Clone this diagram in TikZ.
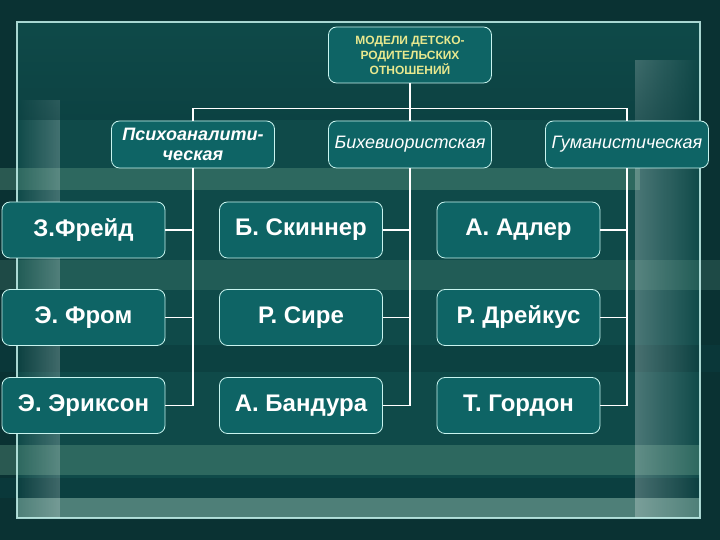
\documentclass[tikz,border=0pt]{standalone}
\usepackage{fontspec}
\setmainfont{Liberation Sans}
\usetikzlibrary{fadings}

\definecolor{bgdark}{HTML}{0A3233}
\definecolor{framefill}{HTML}{0F4A49}
\definecolor{framegl}{HTML}{C4F2EC}
\definecolor{bandlight}{HTML}{5A9580}
\definecolor{banddark}{HTML}{0A3B3D}
\definecolor{boxfill}{HTML}{0E6465}
\definecolor{boxline}{HTML}{C8F4EF}
\definecolor{titletext}{HTML}{E8E88E}

\begin{document}
\begin{tikzpicture}[
                x = 1pt, y = 1pt,
                box/.style = {draw=boxline, line width=0.8pt, rounded corners=8pt, fill=boxfill, text=white,
                              minimum width=163pt, minimum height=56pt, inner sep=2pt, align=center},
                person/.style = {box, font=\fontsize{24}{28}\selectfont\bfseries},
                school/.style = {box, minimum height=47pt, font=\fontsize{18}{20}\selectfont\itshape},
                title/.style = {box, text=titletext, font=\fontsize{12}{15}\selectfont\bfseries},
                conn/.style = {draw=white, line width=1.5pt},
            ]
            \useasboundingbox (0,0) rectangle (720,540);

            % background
            \fill[bgdark] (0,0) rectangle (720,540);
            \fill[framefill] (17,22) rectangle (700,518);
            \fill[bandlight, opacity=.4] (0,372) rectangle (640,350);
            \fill[bandlight, opacity=.25] (0,280) rectangle (720,250);
            \fill[banddark, opacity=.6] (0,195) rectangle (720,168);
            \fill[bandlight, opacity=.4] (0,95) rectangle (700,65);
            \fill[banddark, opacity=.7] (0,62) rectangle (700,42);
            \fill[bandlight!60!white, opacity=.45] (17,42) rectangle (700,22);
            \fill[white, opacity=.22, path fading=west] (17,22) rectangle (60,440);
            \fill[white, opacity=.25, path fading=east] (635,22) rectangle (700,480);
            \fill[banddark, opacity=.5, path fading=north] (17,518) rectangle (700,420);
            \draw[framegl, line width=2pt, opacity=.85] (17,22) rectangle (700,518);

            \node (top) [title] at (410,485) {МОДЕЛИ ДЕТСКО-\\РОДИТЕЛЬСКИХ\\ОТНОШЕНИЙ};

            \node (psy) [school, font=\fontsize{18}{20}\selectfont\bfseries\itshape] at (193,395.5) {Психоаналити-\\ческая};
            \node (beh) [school] at (410,395.5) {Бихевиористская};
            \node (hum) [school] at (627,395.5) {Гуманистическая};

            \node (freud) [person] at (83.5,310) {З.Фрейд};
            \node (fromm) [person] at (83.5,222.5) {Э. Фром};
            \node (erik) [person] at (83.5,134.5) {Э. Эриксон};

            \node (skin) [person] at (301,310) {Б. Скиннер};
            \node (sears) [person] at (301,222.5) {Р. Сире};
            \node (band) [person] at (301,134.5) {А. Бандура};

            \node (adler) [person] at (518.5,310) {А. Адлер};
            \node (dreik) [person] at (518.5,222.5) {Р. Дрейкус};
            \node (gord) [person] at (518.5,134.5) {Т. Гордон};

            \path[conn] (top.south) -- ++(0,-25) -| (psy.north);
            \path[conn] (top.south) -- ++(0,-25) -| (hum.north);
            \path[conn] (top.south) -- (beh.north);

            \path[conn] (psy.south) |- (erik.east);
            \path[conn] (freud.east) -- (freud.east -| psy.south);
            \path[conn] (fromm.east) -- (fromm.east -| psy.south);

            \path[conn] (beh.south) |- (band.east);
            \path[conn] (skin.east) -- (skin.east -| beh.south);
            \path[conn] (sears.east) -- (sears.east -| beh.south);

            \path[conn] (hum.south) |- (gord.east);
            \path[conn] (adler.east) -- (adler.east -| hum.south);
            \path[conn] (dreik.east) -- (dreik.east -| hum.south);
        \end{tikzpicture}
\end{document}
